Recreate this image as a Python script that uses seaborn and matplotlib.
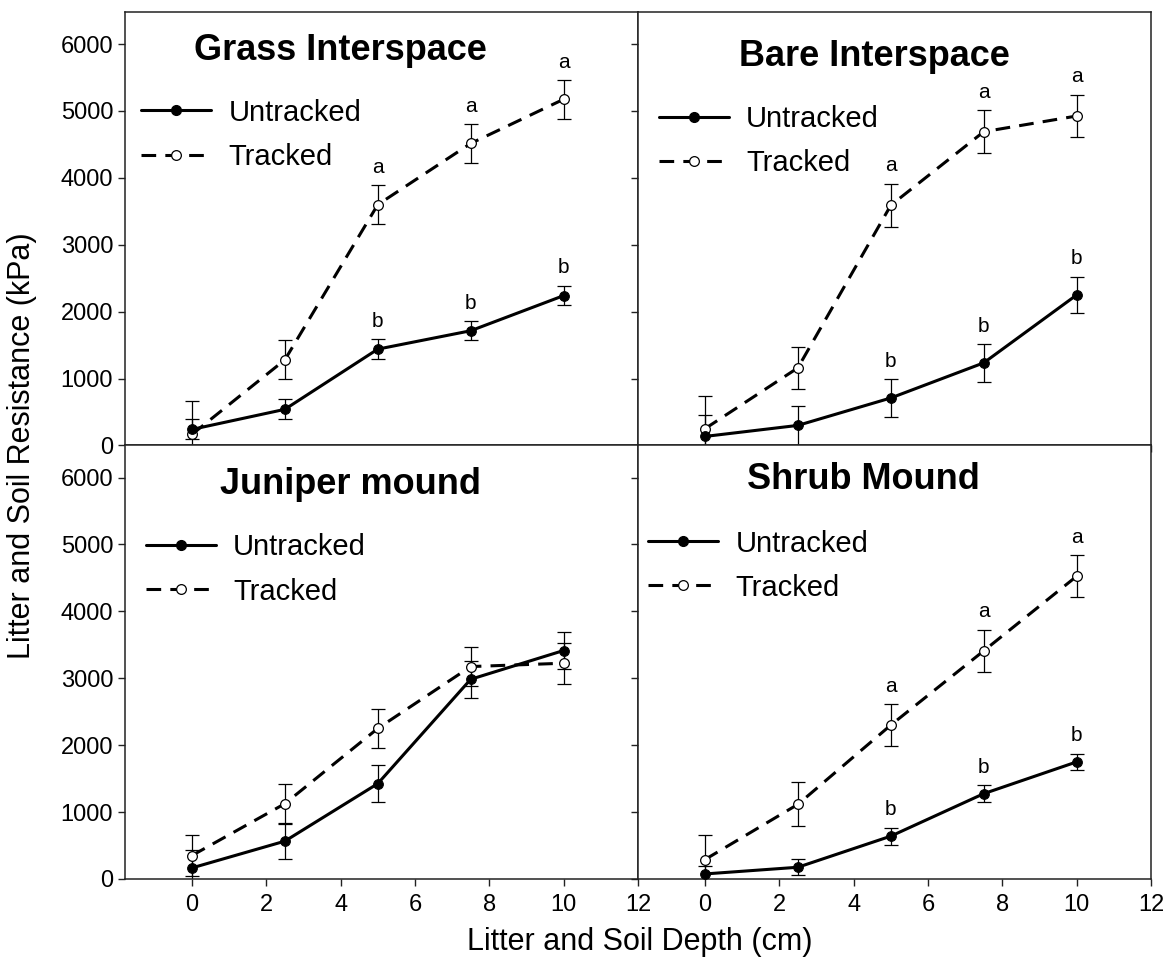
import matplotlib
matplotlib.use("Agg")
import matplotlib.pyplot as plt
from matplotlib.lines import Line2D
import seaborn as sns
import pandas as pd

# ---------------- data ----------------
depth = [0, 2.5, 5, 7.5, 10]

grass_untracked = [240, 540, 1440, 1715, 2240]
grass_untracked_se = [150, 148, 145, 145, 145]
grass_tracked = [165, 1280, 3600, 4515, 5175]
grass_tracked_se = [500, 290, 292, 288, 288]

bare_untracked = [135, 300, 710, 1235, 2250]
bare_untracked_se = [315, 287, 280, 280, 275]
bare_tracked = [250, 1160, 3590, 4690, 4925]
bare_tracked_se = [490, 317, 320, 318, 315]

juniper_untracked = [165, 565, 1425, 2985, 3415]
juniper_untracked_se = [270, 272, 275, 275, 283]
juniper_tracked = [350, 1125, 2250, 3175, 3225]
juniper_tracked_se = [310, 300, 292, 288, 305]

shrub_untracked = [75, 175, 640, 1275, 1750]
shrub_untracked_se = [125, 120, 128, 125, 125]
shrub_tracked = [290, 1115, 2300, 3410, 4525]
shrub_tracked_se = [360, 328, 312, 312, 312]

letters_untracked_sig = ["", "", "b", "b", "b"]
letters_tracked_sig = ["", "", "a", "a", "a"]
letters_none = ["", "", "", "", ""]

panel_titles = ["Grass Interspace", "Bare Interspace", "Juniper mound", "Shrub Mound"]
series_labels = ["Untracked", "Tracked"]
x_ticks = [0, 2, 4, 6, 8, 10, 12]
y_ticks = [0, 1000, 2000, 3000, 4000, 5000, 6000]

panels = [
    (grass_untracked, grass_untracked_se, grass_tracked, grass_tracked_se,
     letters_untracked_sig, letters_tracked_sig),
    (bare_untracked, bare_untracked_se, bare_tracked, bare_tracked_se,
     letters_untracked_sig, letters_tracked_sig),
    (juniper_untracked, juniper_untracked_se, juniper_tracked, juniper_tracked_se,
     letters_none, letters_none),
    (shrub_untracked, shrub_untracked_se, shrub_tracked, shrub_tracked_se,
     letters_untracked_sig, letters_tracked_sig),
]

# layout (axes fractions)
title_pos = [(0.419, 0.912), (0.46, 0.898), (0.44, 0.910), (0.439, 0.922)]
legend_pos = [(0.031, 0.800), (0.04, 0.786), (0.04, 0.797), (0.02, 0.806)]

# ---------------- style ----------------
sns.set_theme(style="ticks")
plt.rcParams["font.family"] = ["Liberation Sans", "DejaVu Sans"]
plt.rcParams["axes.edgecolor"] = "#222222"
plt.rcParams["axes.linewidth"] = 1.1
for k in ["text.color", "axes.labelcolor", "xtick.color", "ytick.color"]:
    plt.rcParams[k] = "black"

fig, axes = plt.subplots(2, 2, figsize=(11.67, 9.66), dpi=100)
fig.subplots_adjust(left=0.1071, right=0.9863, top=0.9876, bottom=0.0901,
                    wspace=0, hspace=0)

LW = 2.2
DASH = (0, (4.8, 3.0))
MS = 7

for i, ax in enumerate(axes.flat):
    u, use, t, tse, lu, lt = panels[i]
    df = pd.DataFrame({"depth": depth * 2,
                       "value": list(u) + list(t),
                       "treatment": [series_labels[0]] * 5 + [series_labels[1]] * 5})
    # error bars
    ax.errorbar(depth, u, yerr=use, fmt="none", ecolor="black", elinewidth=0.9,
                capsize=5, capthick=0.9, zorder=2)
    ax.errorbar(depth, t, yerr=tse, fmt="none", ecolor="black", elinewidth=0.9,
                capsize=5, capthick=0.9, zorder=2)
    # lines
    sns.lineplot(data=df[df.treatment == series_labels[1]], x="depth", y="value",
                 ax=ax, color="black", lw=LW, linestyle=DASH, marker="o",
                 markersize=MS, markerfacecolor="white", markeredgecolor="black",
                 markeredgewidth=0.9, legend=False, zorder=3, estimator=None)
    sns.lineplot(data=df[df.treatment == series_labels[0]], x="depth", y="value",
                 ax=ax, color="black", lw=LW, marker="o",
                 markersize=MS, markerfacecolor="black", markeredgecolor="black",
                 legend=False, zorder=4, estimator=None)
    # significance letters
    for xs, ys, es, ls in [(depth, u, use, lu), (depth, t, tse, lt)]:
        for xv, yv, ev, lab in zip(xs, ys, es, ls):
            if lab:
                ax.annotate(lab, (xv, yv + ev), xytext=(0, 9),
                            textcoords="offset points", ha="center",
                            va="baseline", fontsize=15, color="black")
    # title
    ax.text(*title_pos[i], panel_titles[i], transform=ax.transAxes,
            ha="center", va="center", fontsize=26, fontweight="bold",
            color="black")
    # legend
    handles = [
        Line2D([], [], color="black", lw=LW, marker="o", markersize=MS,
               markerfacecolor="black", markeredgecolor="black"),
        Line2D([], [], color="black", lw=LW, linestyle=DASH, marker="o",
               markersize=MS, markerfacecolor="white", markeredgecolor="black",
               markeredgewidth=0.9),
    ]
    leg = ax.legend(handles, series_labels, loc="upper left",
                    bbox_to_anchor=legend_pos[i], frameon=False, fontsize=21,
                    borderpad=0, borderaxespad=0, handlelength=2.4,
                    handletextpad=0.6, labelspacing=0.55)
    for txt in leg.get_texts():
        txt.set_color("black")

    ax.set_xlim(-1.8, 12)
    ax.set_ylim(0, 6480)
    ax.set_xticks(x_ticks)
    ax.set_yticks(y_ticks)
    ax.set_xlabel("")
    ax.set_ylabel("")
    ax.tick_params(axis="both", direction="out", length=5, width=1,
                   color="#222222", labelsize=17, labelcolor="black")
    ax.tick_params(axis="x", pad=6)
    if i < 2:
        ax.tick_params(axis="x", labelbottom=False)
    else:
        ax.set_xticklabels([str(v) for v in x_ticks])
    if i % 2 == 1:
        ax.tick_params(axis="y", labelleft=False)
    else:
        ax.set_yticklabels([str(v) for v in y_ticks])
    for s in ax.spines.values():
        s.set_visible(True)

fig.text(0.019, 0.539, "Litter and Soil Resistance (kPa)", rotation=90,
         ha="center", va="center", fontsize=22, color="black")
fig.text(0.548, 0.025, "Litter and Soil Depth (cm)", ha="center",
         va="center", fontsize=22, color="black")

fig.savefig("out.png", dpi=100)
